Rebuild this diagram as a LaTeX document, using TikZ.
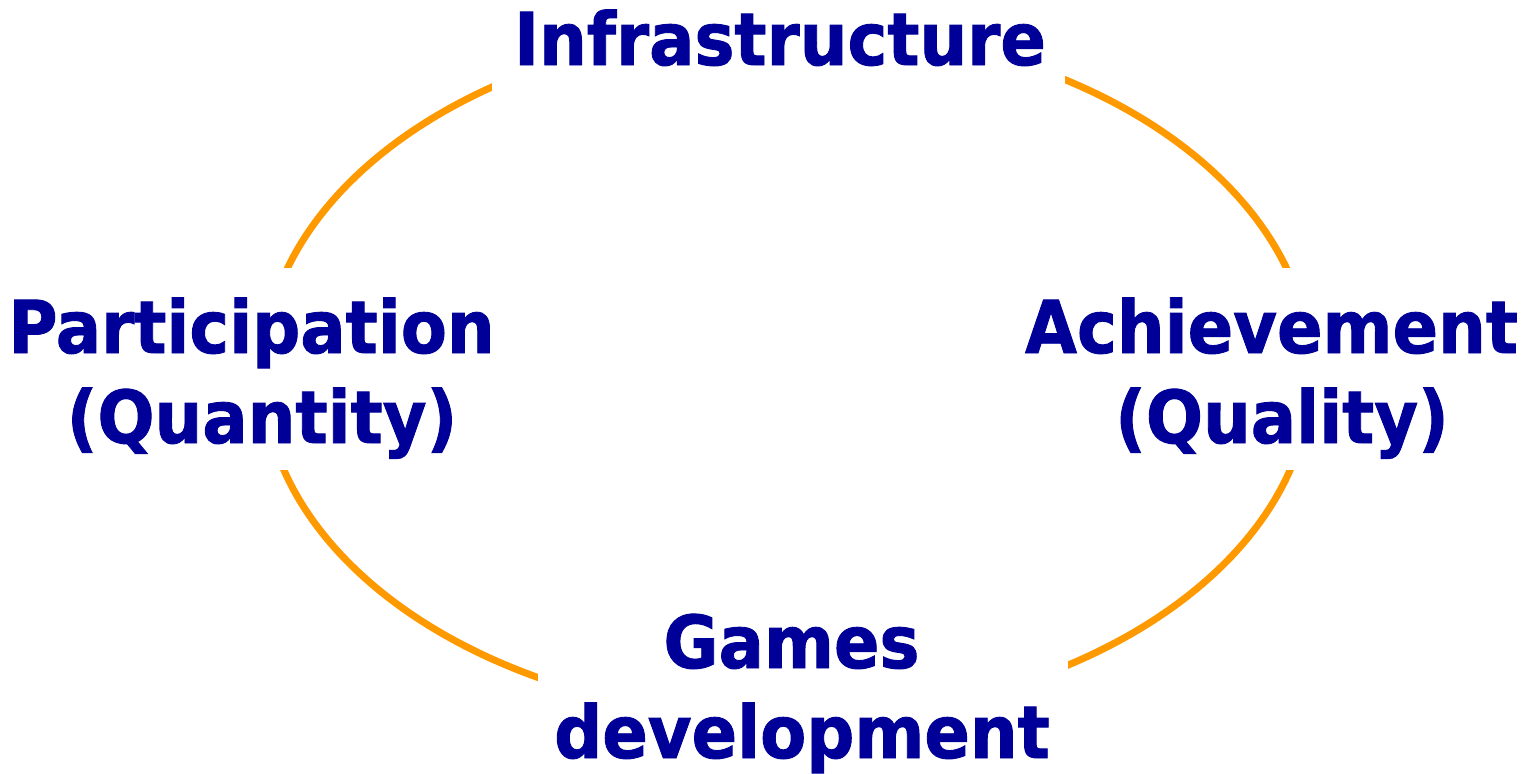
\documentclass[tikz,border=0pt]{standalone}
\usepackage{fontspec}
\setmainfont{DejaVu Sans}
\newfontfamily\lblfont[FakeStretch=0.92,FakeBold=1.2]{DejaVu Sans Bold}
\definecolor{ringorange}{HTML}{FF9900}
\definecolor{labelblue}{HTML}{000099}
\tikzset{
  label/.style={anchor=base, align=center, text=labelblue, inner sep=0pt,
    font=\lblfont\fontsize{73}{90}\selectfont},
  ring/.style={draw=ringorange, line width=7pt},
  mask/.style={fill=white}
}
\begin{document}
\begin{tikzpicture}[x=1pt,y=-1pt]
\useasboundingbox[fill=white] (0,0) rectangle (1532,774);
\coordinate (c) at (787,373);
\draw[ring] (c) ellipse [x radius=524, y radius=346];
% white boxes behind the labels that break the ring
\fill[mask] (492,0) rectangle (1065,110);
\fill[mask] (0,268) rectangle (520,470);
\fill[mask] (1010,268) rectangle (1532,470);
\fill[mask] (538,590) rectangle (1068,774);
% multi-line nodes: anchor=base is the baseline of the last line
\node[label] (infra) at (780,65) {Infrastructure};
\node[label] (part) at (262,443) {Participation\hspace*{21pt}\\(Quantity)};
\node[label] (achv) at (1282,443) {Achievement\hspace*{21pt}\\(Quality)};
\node[label] (games) at (802,758) {Games\hspace*{21pt}\\development};
\end{tikzpicture}
\end{document}
